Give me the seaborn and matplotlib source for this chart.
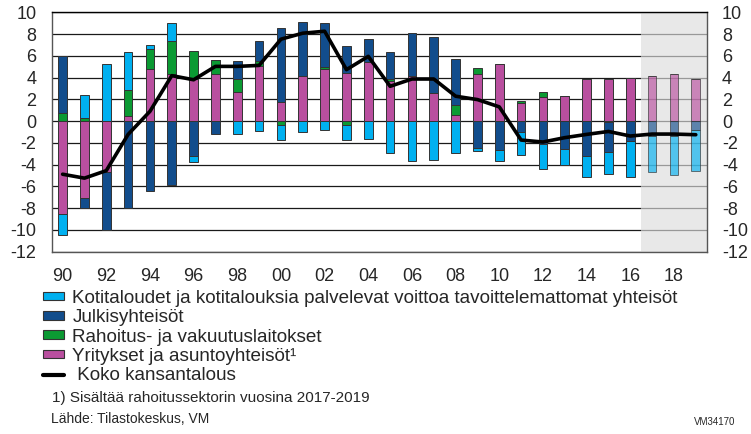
import numpy as np
import pandas as pd
import matplotlib
matplotlib.use("Agg")
import matplotlib.pyplot as plt
import seaborn as sns
from matplotlib.patches import Patch
from matplotlib.lines import Line2D

### Data: sector net lending, % of GDP
years = list(range(1990, 2020))

kotitaloudet = [-1.92, 2.07, 5.24, 3.48, 0.40, 1.70, -0.52, 0.00, -1.22, -0.95,
                -1.37, -0.98, -0.82, -1.43, -1.62, -2.90, -3.66, -3.54, -2.90, -0.30,
                -1.00, -2.13, -2.29, -1.46, -1.89, -1.98, -3.32, -3.29, -3.57, -3.72]

julkisyhteisot = [5.27, -0.91, -5.34, -8.02, -6.46, -5.88, -3.20, -1.22, 1.65, 1.80,
                  6.86, 5.00, 4.05, 2.44, 2.16, 2.53, 4.02, 5.10, 4.18, -2.44,
                  -2.65, -1.00, -2.13, -2.59, -3.20, -2.74, -1.83, -1.37, -1.37, -0.82]

rahoitus = [0.76, 0.30, 0.00, 2.38, 1.80, 3.05, 2.50, 1.25, 1.22, 0.52,
            -0.34, 0.00, 0.15, -0.34, 0.00, 0.20, 0.00, 0.00, 0.90, 0.52,
            0.00, 0.18, 0.43, 0.00, 0.00, -0.10, 0.00, 0.00, 0.00, 0.00]

yritykset = [-8.54, -7.10, -4.66, 0.46, 4.82, 4.30, 3.90, 4.36, 2.65, 5.03,
             1.74, 4.12, 4.82, 4.42, 5.43, 3.66, 4.12, 2.60, 0.60, 4.36,
             5.24, 1.68, 2.23, 2.32, 3.90, 3.90, 4.00, 4.12, 4.33, 3.90]

koko = [-4.88, -5.24, -4.55, -1.22, 0.90, 4.18, 3.80, 5.03, 5.03, 5.12,
        7.53, 8.08, 8.26, 4.73, 5.95, 3.20, 3.87, 3.87, 2.29, 1.98,
        1.31, -1.74, -1.92, -1.52, -1.22, -0.95, -1.37, -1.19, -1.19, -1.25]

first_forecast = 2017

labels = {
    "kotitaloudet": "Kotitaloudet ja kotitalouksia palvelevat voittoa tavoittelemattomat yhteisöt",
    "julkisyhteisot": "Julkisyhteisöt",
    "rahoitus": "Rahoitus- ja vakuutuslaitokset",
    "yritykset": "Yritykset ja asuntoyhteisöt¹",
    "koko": " Koko kansantalous",
}
colors = {
    "kotitaloudet": "#00b0f0",
    "julkisyhteisot": "#124d8c",
    "rahoitus": "#0b9a33",
    "yritykset": "#b94f9f",
}

df = pd.DataFrame({
    "vuosi": years,
    "kotitaloudet": kotitaloudet,
    "julkisyhteisot": julkisyhteisot,
    "rahoitus": rahoitus,
    "yritykset": yritykset,
    "koko": koko,
})

sns.set_theme(style="white")
plt.rcParams["font.family"] = ["Liberation Sans", "DejaVu Sans"]
plt.rcParams["axes.unicode_minus"] = False

fig = plt.figure(figsize=(7.51, 4.34), dpi=100)
ax = fig.add_axes([51.7 / 751, 1 - 251.7 / 434, 655 / 751, 239.4 / 434])

# stacking order from zero outwards (positives and negatives stacked separately)
pos_base = np.zeros(len(df))
neg_base = np.zeros(len(df))
for col in ["yritykset", "rahoitus", "julkisyhteisot", "kotitaloudet"]:
    vals = df[col].to_numpy()
    bottom = np.where(vals >= 0, pos_base, neg_base)
    sns.barplot(data=df, x="vuosi", y=col, bottom=bottom, width=0.4,
                color=colors[col], saturation=1, edgecolor="#333333",
                linewidth=0.7, errorbar=None, ax=ax, zorder=3)
    # forecast years look paler behind the grey panel
    for yr, bar in zip(years, ax.containers[-1]):
        if yr >= first_forecast:
            bar.set_alpha(0.65)
    pos_base = pos_base + np.clip(vals, 0, None)
    neg_base = neg_base + np.clip(vals, None, 0)

x_pos = np.arange(len(df))
sns.lineplot(x=x_pos, y=df["koko"], color="black", linewidth=2.6, ax=ax, zorder=5)

# forecast panel
fc_start = years.index(first_forecast) - 0.5
ax.axvspan(fc_start, len(years) - 0.5, color="#dddddd", alpha=0.65, lw=0, zorder=1.5)

ax.set_xlim(-0.5, len(years) - 0.5)
ax.set_ylim(-12, 10)
ax.set_yticks(range(-12, 11, 2))
ax.set_xticks(x_pos[::2])
ax.set_xticklabels([f"{y % 100:02d}" for y in years[::2]])
ax.set_xlabel("")
ax.set_ylabel("")

ax.set_axisbelow(True)
ax.yaxis.grid(True, color="#1a1a1a", linewidth=0.9)
ax.xaxis.grid(False)
ax.tick_params(axis="y", labelleft=True, labelright=True, left=False, right=False,
               length=0, pad=11, labelsize=13)
ax.tick_params(axis="x", length=0, pad=12, labelsize=13)
for s in ["left", "right", "bottom"]:
    ax.spines[s].set_color("#555555")
    ax.spines[s].set_linewidth(1.0)
ax.spines["top"].set_color("black")
ax.spines["top"].set_linewidth(1.0)

# legend (reversed series order, like the original)
handles = [Patch(facecolor=colors[c], edgecolor="#333333", linewidth=0.8)
           for c in ["kotitaloudet", "julkisyhteisot", "rahoitus", "yritykset"]]
handles.append(Line2D([], [], color="black", linewidth=3))
leg_labels = [labels[c] for c in ["kotitaloudet", "julkisyhteisot", "rahoitus", "yritykset", "koko"]]
fig.legend(handles, leg_labels, loc="upper left", bbox_to_anchor=(43 / 751, 1 - 290 / 434),
           frameon=False, fontsize=13.6, handlelength=1.1, handleheight=0.32,
           handletextpad=0.45, labelspacing=0.12, borderpad=0, borderaxespad=0)

fig.text(51.7 / 751, 1 - 398 / 434, "1) Sisältää rahoitussektorin vuosina 2017-2019",
         fontsize=11, va="center", ha="left")
fig.text(51 / 751, 1 - 419 / 434, "Lähde: Tilastokeskus, VM",
         fontsize=10, va="center", ha="left")
fig.text(735 / 751, 1 - 422 / 434, "VM34170", fontsize=7, va="center", ha="right")

fig.savefig("out.png", dpi=100)
